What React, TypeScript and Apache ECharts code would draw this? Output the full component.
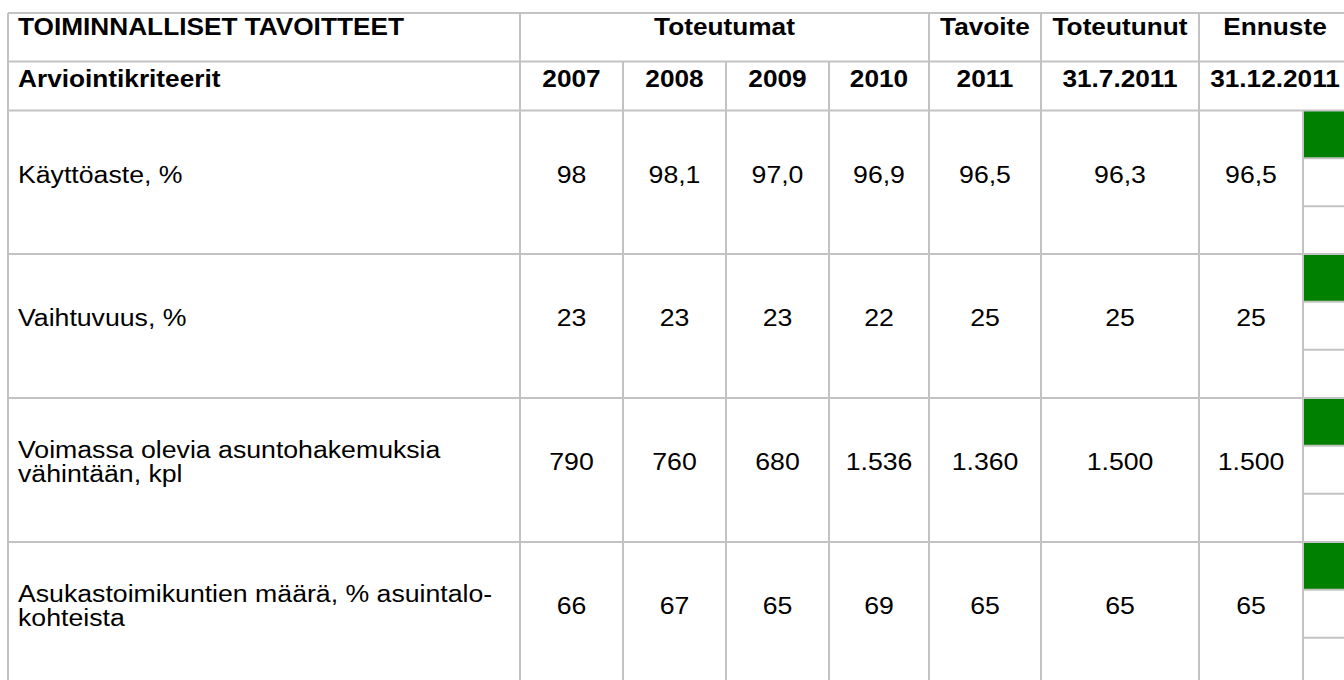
import React, { useEffect, useRef } from "react";
import * as echarts from "echarts";

// ---- data ----
const tableTitle = "TOIMINNALLISET TAVOITTEET";
const criteriaHeader = "Arviointikriteerit";
const groupHeaders = ["Toteutumat", "Tavoite", "Toteutunut", "Ennuste"];
const groupSpans = [4, 1, 1, 1];
const periods = ["2007", "2008", "2009", "2010", "2011", "31.7.2011", "31.12.2011"];
const criteria = [
  "Käyttöaste, %",
  "Vaihtuvuus, %",
  "Voimassa olevia asuntohakemuksia\nvähintään, kpl",
  "Asukastoimikuntien määrä, % asuintalo-\nkohteista",
];
const kayttoaste = ["98", "98,1", "97,0", "96,9", "96,5", "96,3", "96,5"];
const vaihtuvuus = ["23", "23", "23", "22", "25", "25", "25"];
const asuntohakemukset = ["790", "760", "680", "1.536", "1.360", "1.500", "1.500"];
const asukastoimikunnat = ["66", "67", "65", "69", "65", "65", "65"];
const rowValues = [kayttoaste, vaihtuvuus, asuntohakemukset, asukastoimikunnat];
// traffic light: index of the lit light (0 = top) for each row
const statusLit = [0, 0, 0, 0];
const lightColors = ["#008000", "#ffff00", "#ff0000"];

// ---- layout ----
const colX = [8, 520, 623, 726, 829, 929, 1041, 1199, 1303, 1351];
const rowY = [13, 61.5, 110.5, 254, 398, 542, 686];
const LINE = "#c3c3c3";
const FONT = "Arial, 'Liberation Sans', sans-serif";
const FS_BOLD = 23;
const FS_REG = 23;
const SX_BOLD = 1.14;
const SX_REG = 1.16;

function buildGraphics() {
  const els: any[] = [];
  const left = colX[0];
  const right = colX[colX.length - 1];
  const sub = (rowY[3] - rowY[2]) / 3;

  criteria.forEach((_, r) => {
    const top = rowY[2 + r];
    const lit = statusLit[r];
    els.push({
      type: "rect",
      shape: { x: colX[8], y: top + lit * sub, width: right - colX[8], height: sub },
      style: { fill: lightColors[lit] },
      z: 1,
    });
  });

  const hline = (y: number, x1: number, x2: number) =>
    els.push({ type: "line", shape: { x1, y1: y, x2, y2: y }, style: { stroke: LINE, lineWidth: 2 }, z: 2 });
  const vline = (x: number, y1: number, y2: number) =>
    els.push({ type: "line", shape: { x1: x, y1, x2: x, y2 }, style: { stroke: LINE, lineWidth: 2 }, z: 2 });

  rowY.forEach((y, i) => {
    if (i < rowY.length - 1) hline(y, left, right);
  });
  criteria.forEach((_, r) => {
    const top = rowY[2 + r];
    hline(top + sub, colX[8], right);
    hline(top + 2 * sub, colX[8], right);
  });
  const bottom = rowY[rowY.length - 1];
  vline(colX[0], rowY[0], bottom);
  vline(colX[1], rowY[0], bottom);
  vline(colX[2], rowY[1], bottom);
  vline(colX[3], rowY[1], bottom);
  vline(colX[4], rowY[1], bottom);
  vline(colX[5], rowY[0], bottom);
  vline(colX[6], rowY[0], bottom);
  vline(colX[7], rowY[0], bottom);
  vline(colX[8], rowY[2], bottom);

  const text = (t: string, x: number, y: number, align: string, bold: boolean, lh = 24) =>
    els.push({
      type: "text",
      x,
      y,
      scaleX: bold ? SX_BOLD : SX_REG,
      z: 3,
      style: {
        text: t,
        x: 0,
        y: 0,
        fill: "#000",
        fontFamily: FONT,
        fontSize: bold ? FS_BOLD : FS_REG,
        fontWeight: bold ? "bold" : "normal",
        align,
        verticalAlign: "middle",
        lineHeight: lh,
      },
    });

  text(tableTitle, 18, 27, "left", true);
  let c = 1;
  groupHeaders.forEach((g, i) => {
    const x1 = colX[c];
    const x2 = i === groupHeaders.length - 1 ? right : colX[c + groupSpans[i]];
    text(g, (x1 + x2) / 2, 27, "center", true);
    c += groupSpans[i];
  });
  text(criteriaHeader, 18, 79, "left", true);
  periods.forEach((p, i) => {
    const x1 = colX[1 + i];
    const x2 = i === periods.length - 1 ? right : colX[2 + i];
    text(p, (x1 + x2) / 2, 79, "center", true);
  });
  criteria.forEach((label, r) => {
    const cy = (rowY[2 + r] + rowY[3 + r]) / 2 - 8;
    text(label, 18, cy, "left", false);
    rowValues[r].forEach((v, i) => {
      text(v, (colX[1 + i] + colX[2 + i]) / 2, cy, "center", false);
    });
  });
  return els;
}

export default function App() {
  const ref = useRef<HTMLDivElement>(null);
  useEffect(() => {
    if (!ref.current) return;
    const chart = echarts.init(ref.current, null, { renderer: "svg" });
    chart.setOption({
      animation: false,
      backgroundColor: "#ffffff",
      graphic: buildGraphics(),
    });
    return () => chart.dispose();
  }, []);
  return (
    <div
      ref={ref}
      style={{ position: "fixed", left: 0, top: 0, width: 1344, height: 680, background: "#fff" }}
    />
  );
}
